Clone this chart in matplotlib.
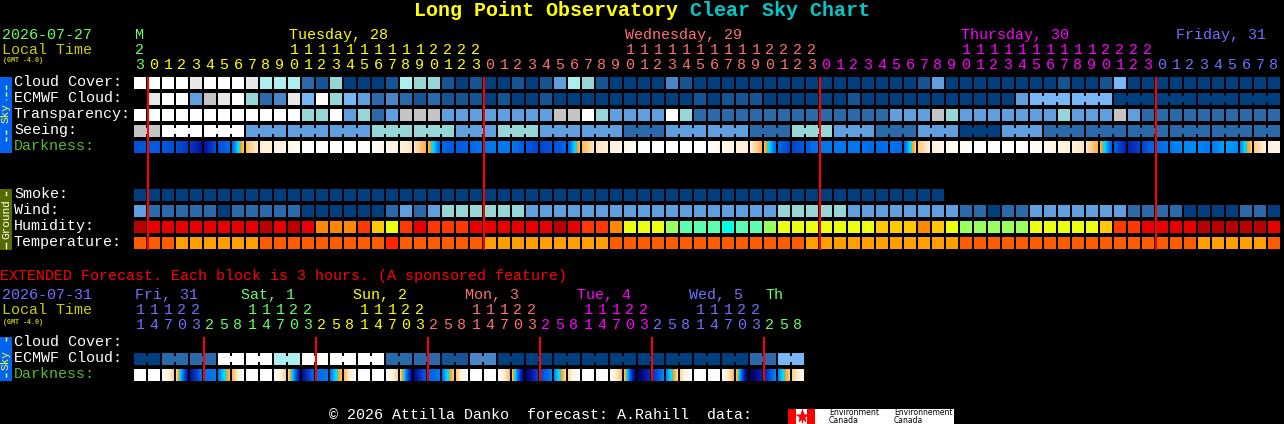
import numpy as np
import matplotlib
matplotlib.use("Agg")
import matplotlib.pyplot as plt
from matplotlib.colors import LinearSegmentedColormap
from matplotlib.patches import Rectangle

# ----------------------------------
# Chart data
# ----------------------------------
title_main = "Long Point Observatory"
title_tail = "Clear Sky Chart"

# hourly chart
hour_labels = [23] + list(range(24)) + list(range(24)) + list(range(24)) + list(range(9))
hour_days = [0] + [1] * 24 + [2] * 24 + [3] * 24 + [4] * 9

cloud = [
    10, 10, 10, 10, 9, 10, 10, 10, 9, 7,
    7, 7, 2, 1, 6, 0, 0, 0, 1, 7,
    6, 6, 1, 0, 1, 0, 0, 1, 0, 1,
    4, 7, 6, 1, 0, 0, 0, 0, 3, 1,
    0, 0, 0, 0, 0, 0, 0, 0, 0, 0,
    0, 0, 0, 0, 0, 0, 1, 4, 0, 0,
    0, 0, 0, 0, 0, 0, 1, 0, 0, 1,
    5, 0, 0, 0, 0, 0, 0, 0, 0, 0,
    0, 0,
]
ecmwf = [
    None, 9, 10, 10, 4, 8, 9, 10, 6, 2,
    3, 9, 5, 10, 6, 5, 4, 2, 3, 2,
    1, 2, 1, 1, 1, 0, 1, 0, 0, 1,
    0, 0, 0, 0, 0, 0, 0, 0, 0, 0,
    1, 0, 1, 1, 1, 0, 0, 0, 0, 0,
    0, 1, 0, 0, 0, 0, 0, 0, 0, 0,
    0, 0, 0, 4, 5, 5, 5, 5, 5, 5,
    0, 0, 0, 0, 0, 0, 0, 0, 0, 0,
    0, 0,
]
transparency = [
    10, 10, 10, 10, 10, 10, 10, 10, 10, 10,
    10, 10, 6, 6, 10, 4, 6, 2, 4, 8,
    8, 8, 4, 4, 4, 4, 4, 4, 4, 4,
    8, 8, 10, 6, 4, 4, 4, 4, 10, 6,
    2, 2, 2, 2, 2, 2, 2, 2, 2, 2,
    2, 2, 2, 2, 4, 4, 4, 8, 6, 4,
    4, 4, 4, 4, 4, 4, 6, 4, 4, 4,
    8, 4, 2, 2, 2, 2, 2, 2, 2, 2,
    2, 2,
]
seeing = [
    8, 8, 10, 10, 10, 10, 10, 10, 4, 4,
    4, 4, 4, 4, 4, 4, 4, 6, 6, 6,
    6, 6, 6, 4, 4, 4, 6, 6, 6, 4,
    4, 4, 4, 4, 4, 2, 2, 2, 4, 4,
    4, 4, 4, 4, 2, 2, 2, 6, 6, 6,
    4, 4, 4, 2, 2, 2, 4, 4, 4, 0,
    0, 0, 4, 4, 4, 2, 2, 2, 2, 2,
    2, 2, 2, 2, 2, 2, 2, 2, 2, 2,
    2, 2,
]
# darkness at the left edge of each block, plus the end of the last one
darkness = [
    5.0, 4.8, 4.8, 5.0, 5.4, 6.2, 5.0, 4.5, 1.7, 1.1,
    0.9, 0.6, 0.2, 0.0, 0.0, 0.0, 0.0, 0.2, 0.6, 0.9,
    1.2, 2.0, 4.5, 4.8, 4.6, 4.2, 4.2, 4.2, 4.8, 5.2,
    4.9, 4.6, 1.9, 1.2, 1.0, 0.6, 0.1, 0.0, 0.0, 0.0,
    0.0, 0.1, 0.5, 0.9, 1.0, 2.0, 4.5, 5.2, 4.8, 4.2,
    4.2, 4.2, 4.2, 4.5, 4.3, 4.5, 1.6, 1.0, 0.5, 0.3,
    0.0, 0.0, 0.0, 0.0, 0.1, 0.4, 0.7, 1.0, 1.2, 2.0,
    4.7, 5.8, 5.2, 4.5, 4.2, 4.0, 4.0, 4.2, 3.7, 4.0,
    1.6, 0.9, 0.7,
]
smoke = [
    0, 0, 0, 0, 0, 0, 0, 0, 0, 0,
    0, 0, 0, 0, 0, 0, 0, 0, 0, 0,
    0, 0, 0, 0, 0, 0, 0, 0, 0, 0,
    0, 0, 0, 0, 0, 0, 0, 0, 0, 0,
    0, 0, 0, 0, 0, 0, 0, 0, 0, 0,
    0, 0, 0, 0, 0, 0, 0, 0,
]
wind = [
    4, 2, 2, 2, 2, 2, 0, 2, 2, 2,
    2, 2, 0, 0, 0, 0, 0, 0, 2, 4,
    2, 4, 6, 6, 6, 6, 6, 6, 4, 4,
    4, 4, 4, 4, 4, 4, 4, 4, 4, 4,
    4, 4, 4, 4, 4, 4, 6, 6, 6, 6,
    6, 4, 4, 4, 4, 4, 4, 4, 4, 2,
    2, 0, 2, 2, 4, 4, 4, 4, 4, 4,
    4, 2, 2, 2, 2, 0, 0, 0, 0, 2,
    2, 0,
]
humidity = [
    0, 1, 1, 1, 1, 1, 1, 1, 1, 0,
    1, 0, 1, 3, 3, 3, 2, 4, 5, 2,
    1, 2, 2, 2, 1, 1, 1, 1, 1, 1,
    0, 1, 2, 2, 3, 5, 5, 5, 6, 7,
    7, 7, 8, 7, 7, 6, 5, 5, 5, 5,
    5, 5, 5, 4, 4, 4, 3, 4, 5, 6,
    6, 6, 6, 6, 5, 5, 5, 5, 5, 4,
    2, 2, 1, 1, 1, 1, 0, 0, 0, 0,
    0, 1,
]
temperature = [
    1, 1, 1, 2, 2, 2, 2, 2, 2, 1,
    1, 1, 1, 1, 1, 1, 1, 1, 0, 1,
    1, 1, 1, 1, 1, 2, 2, 2, 2, 2,
    2, 2, 2, 2, 1, 1, 1, 1, 1, 1,
    1, 1, 1, 1, 1, 1, 1, 1, 2, 2,
    2, 2, 2, 2, 2, 2, 2, 2, 2, 1,
    1, 1, 1, 1, 1, 1, 1, 1, 1, 1,
    1, 1, 1, 1, 1, 1, 2, 2, 2, 2,
    2, 1,
]

# extended chart, 3 hour blocks
ext_hours = [11, 14, 17, 20, 23, 2, 5, 8] * 6
ext_days = [4] * 5 + [0] * 8 + [1] * 8 + [2] * 8 + [3] * 8 + [4] * 8 + [0] * 3
ext_ecmwf = [
    0, 0, 2, 2, 2, 2, 10, 10, 10, 10,
    7, 7, 10, 10, 10, 10, 10, 10, 2, 2,
    2, 2, 1, 1, 3, 3, 0, 0, 0, 0,
    0, 0, 0, 0, 0, 0, 0, 0, 0, 0,
    0, 0, 0, 0, 2, 2, 5, 5,
]
ext_darkness = [
    0.0, 0.0, 0.1, 1.5, 6.2, 4.4, 4.2, 1.9,
    0.1, 0.0, 0.1, 1.5, 6.3, 4.5, 4.2, 1.8,
    0.1, 0.0, 0.1, 1.5, 6.5, 4.7, 4.2, 1.6,
    0.1, 0.0, 0.2, 1.8, 6.9, 5.2, 4.0, 1.4,
    0.0, 0.0, 0.3, 1.8, 7.2, 5.6, 4.0, 1.4,
    0.0, 0.0, 0.3, 1.9, 7.4, 5.8, 4.0, 1.5,
    0.6,
]

# ----------------------------------
# Styles
# ----------------------------------
BLOCK_COLORS = ["#003f7f", "#155595", "#2a6aab", "#4a85c8", "#5f9fdf", "#77b7f7",
                "#96d6d6", "#aeeeee", "#c4c4c4", "#e8e8e8", "#ffffff"]
HUMIDITY_COLORS = ["#b80000", "#e80000", "#ff3800", "#ff8800", "#ffc800",
                   "#ecff10", "#98ff60", "#5cffb0", "#00ffe8"]
TEMP_COLORS = ["#ff2400", "#ff5c00", "#ffa000"]
# green, yellow, salmon, magenta, blue: one per day, then round again
DAY_COLORS = ["#66ff66", "#ffff00", "#ff7070", "#ff00ff", "#7070ff"]

dark_cmap = LinearSegmentedColormap.from_list("darkness", [
    (0 / 7.5, "#ffffff"), (1 / 7.5, "#fff0d8"), (2 / 7.5, "#ffb040"),
    (2.45 / 7.5, "#ffa000"), (2.6 / 7.5, "#20d0e0"), (3 / 7.5, "#00e0ff"),
    (3.7 / 7.5, "#00a0ff"), (4.2 / 7.5, "#0078f0"), (5 / 7.5, "#0050d8"),
    (6 / 7.5, "#0818a8"), (7 / 7.5, "#000070"), (1.0, "#000050"),
])

MONO = "Liberation Mono"
X0 = 134
STEP = 14
SIZE = 12

fig = plt.figure(figsize=(12.84, 4.24), dpi=100, facecolor="black")
ax = fig.add_axes([0, 0, 1, 1])
ax.set_xlim(0, 1284)
ax.set_ylim(424, 0)
ax.set_facecolor("black")
ax.axis("off")


def text(x, y, s, color="white", size=10.8, ha="left", **kw):
    ax.text(x, y, s, color=color, fontsize=size, family=MONO, ha=ha, va="center", **kw)


def rect(x, y, w, h, color, z=2):
    ax.add_patch(Rectangle((x, y), w, h, facecolor=color, edgecolor="none", zorder=z))


def block_row(y, values, palette, joined=None):
    for i, v in enumerate(values):
        if v is None:
            continue
        rect(X0 + i * STEP, y, SIZE, SIZE, palette[v])
        if joined is not None and joined(i) and i + 1 < len(values):
            rect(X0 + i * STEP + SIZE, y + 3, STEP - SIZE, SIZE - 6, palette[v])


def dark_row(y, edges):
    for i in range(len(edges) - 1):
        strip = np.linspace(edges[i], edges[i + 1], SIZE).reshape(1, -1)
        ax.imshow(strip, cmap=dark_cmap, vmin=0, vmax=7.5, aspect="auto",
                  interpolation="nearest", zorder=2,
                  extent=(X0 + i * STEP, X0 + i * STEP + SIZE, y + SIZE, y))
    ax.set_xlim(0, 1284)
    ax.set_ylim(424, 0)


# ----------------------------------
# Title
# ----------------------------------
ax.text(414, 11, title_main, color="#ffff00", fontsize=14.4, family=MONO,
        weight="bold", va="center")
ax.text(690, 11, title_tail, color="#00c8c8", fontsize=14.4, family=MONO,
        weight="bold", va="center")

# ----------------------------------
# Hourly header
# ----------------------------------
text(2, 35, "2026-07-27", DAY_COLORS[0])
text(2, 50, "Local Time", "#cccc00")
text(3, 61, "(GMT -4.0)", "#cccc00", size=4.8, weight="bold")

text(135, 35, "M", DAY_COLORS[0])
text(289, 35, "Tuesday, 28", DAY_COLORS[1])
text(625, 35, "Wednesday, 29", DAY_COLORS[2])
text(961, 35, "Thursday, 30", DAY_COLORS[3])
text(1176, 35, "Friday, 31", DAY_COLORS[4])

for i, (h, d) in enumerate(zip(hour_labels, hour_days)):
    cx = X0 + i * STEP + 6
    if h >= 10:
        text(cx, 50, str(h // 10), DAY_COLORS[d], ha="center")
    text(cx, 65, str(h % 10), DAY_COLORS[d], ha="center")

# ----------------------------------
# Hourly rows
# ----------------------------------
labels = [("Cloud Cover:", 82, "white"), ("ECMWF Cloud:", 98, "white"),
          ("Transparency:", 114, "white"), ("Seeing:", 130, "white"),
          ("Darkness:", 146, "#5cb82e"), ("Smoke:", 194, "white"),
          ("Wind:", 210, "white"), ("Humidity:", 226, "white"),
          ("Temperature:", 242, "white")]
for name, y, c in labels:
    text(14, y, name, c)

block_row(77, cloud, BLOCK_COLORS)
block_row(93, ecmwf, BLOCK_COLORS, joined=lambda i: i >= 64 and (i - 64) % 3 != 2)
block_row(109, transparency, BLOCK_COLORS)
block_row(125, seeing, BLOCK_COLORS, joined=lambda i: i % 3 != 1)
dark_row(141, darkness)
block_row(189, smoke, BLOCK_COLORS)
block_row(205, wind, BLOCK_COLORS)
block_row(221, humidity, HUMIDITY_COLORS)
block_row(237, temperature, TEMP_COLORS)

for i, h in enumerate(hour_labels):
    if h == 0:
        rect(X0 + i * STEP - 1, 77, 2, 173, "#ff0000", z=3)

# ----------------------------------
# Extended forecast
# ----------------------------------
text(0, 276, "EXTENDED Forecast. Each block is 3 hours. (A sponsored feature)", "#ff0000")
text(2, 295, "2026-07-31", DAY_COLORS[4])
text(2, 310, "Local Time", "#cccc00")
text(3, 322, "(GMT -4.0)", "#cccc00", size=4.8, weight="bold")

ext_titles = [("Fri, 31", 135, 4), ("Sat, 1", 241, 0), ("Sun, 2", 353, 1),
              ("Mon, 3", 465, 2), ("Tue, 4", 577, 3), ("Wed, 5", 689, 4), ("Th", 765, 0)]
for name, x, d in ext_titles:
    text(x, 295, name, DAY_COLORS[d])

for i, (h, d) in enumerate(zip(ext_hours, ext_days)):
    cx = X0 + i * STEP + 6
    if h >= 10:
        text(cx, 310, str(h // 10), DAY_COLORS[d], ha="center")
    text(cx, 325, str(h % 10), DAY_COLORS[d], ha="center")

text(14, 342, "Cloud Cover:")
text(14, 358, "ECMWF Cloud:")
text(14, 374, "Darkness:", "#5cb82e")

block_row(353, ext_ecmwf, BLOCK_COLORS, joined=lambda i: i % 2 == 0)
dark_row(369, ext_darkness)

for i, h in enumerate(ext_hours):
    if h == 2:
        rect(X0 + i * STEP - 1, 337, 2, 44, "#ff0000", z=3)

# ----------------------------------
# Side bars
# ----------------------------------
rect(0, 77, 12, 76, "#0064f0")
rect(0, 189, 12, 61, "#556b00")
rect(0, 337, 12, 44, "#0064f0")

for y0, y1 in [(85, 100), (130, 142), (337, 342), (373, 378)]:
    ax.plot([6, 6], [y0, y1], color="#ffff40", lw=1, ls=(0, (3, 2)), zorder=3)
for y0, y1 in [(192, 195), (243, 248)]:
    ax.plot([6, 6], [y0, y1], color="white", lw=1, zorder=3)

text(6, 113, "Sky", "#ffff40", size=8, ha="center", rotation=90)
text(6, 219, "Ground", "white", size=8, ha="center", rotation=90)
text(6, 360, "Sky", "#ffff40", size=8, ha="center", rotation=90)

# ----------------------------------
# Footer and logo
# ----------------------------------
text(329, 415, "\u00a9 2026 Attilla Danko  forecast: A.Rahill  data:")

rect(788, 409, 166, 15, "white")
rect(788, 409, 8, 15, "#ff0000", z=3)
rect(807, 409, 8, 15, "#ff0000", z=3)
ax.plot([801.5], [415.5], marker="*", ms=11, color="#ff0000", mec="none", zorder=3)
ax.plot([801.5, 801.5], [417, 422], color="#ff0000", lw=1, zorder=3)
for x, word, size in [(829, "Environment", 5.6), (894, "Environnement", 5.5)]:
    ax.text(x, 412.5, word, color="black", fontsize=size, family="DejaVu Sans", va="center", zorder=3)
    ax.text(x, 420.5, "Canada", color="black", fontsize=size, family="DejaVu Sans", va="center", zorder=3)

fig.savefig("out.png", dpi=100, facecolor="black")
